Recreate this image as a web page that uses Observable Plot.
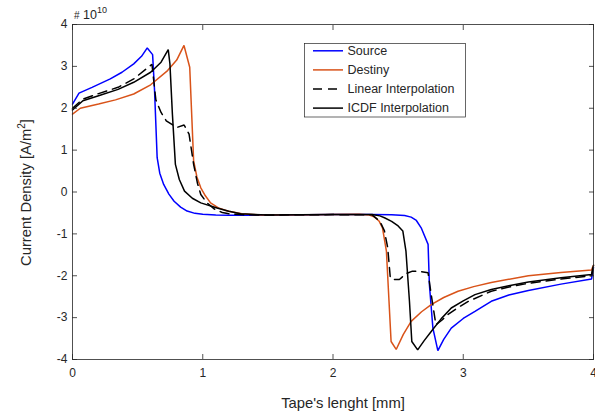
<!DOCTYPE html>
<html><head><meta charset="utf-8">
<script src="https://cdn.jsdelivr.net/npm/d3@7"></script>
<script src="https://cdn.jsdelivr.net/npm/@observablehq/plot@0.6"></script>
<style>html,body{margin:0;padding:0;background:#fff;overflow:hidden} svg{display:block}</style>
</head><body><div id="chart"></div>
<script>
// ---- data (x in mm, y in units of 1e10 A/m^2) ----
const xTicks = [0, 1, 2, 3, 4];
const yTicks = [-4, -3, -2, -1, 0, 1, 2, 3, 4];
const seriesNames = ["Source", "Destiny", "Linear Interpolation", "ICDF Interpolation"];
const seriesColors = ["#0000ff", "#d95319", "#000000", "#000000"];

const source = [[0,2.1],[0.05,2.36],[0.15,2.5],[0.29,2.7],[0.38,2.86],[0.47,3.06],[0.53,3.24],[0.574,3.44],[0.615,3.28],[0.63,2.42],[0.65,0.82],[0.67,0.45],[0.70,0.18],[0.74,-0.05],[0.78,-0.22],[0.83,-0.36],[0.88,-0.455],[0.94,-0.51],[1.0,-0.53],[1.1,-0.55],[1.2,-0.555],[1.6,-0.55],[2.0,-0.54],[2.3,-0.54],[2.45,-0.545],[2.55,-0.56],[2.6,-0.6],[2.64,-0.68],[2.677,-0.855],[2.73,-1.25],[2.74,-2.21],[2.767,-3.25],[2.805,-3.79],[2.85,-3.52],[2.908,-3.25],[3.0,-3.02],[3.09,-2.85],[3.215,-2.61],[3.35,-2.46],[3.5,-2.35],[3.75,-2.2],[3.985,-2.08],[4.0,-1.8]];

const destiny = [[0,1.86],[0.06,2.0],[0.2,2.1],[0.33,2.2],[0.47,2.34],[0.6,2.56],[0.73,2.9],[0.8,3.15],[0.856,3.5],[0.9,2.98],[0.915,1.86],[0.93,0.74],[0.955,0.36],[0.985,0.10],[1.02,-0.09],[1.06,-0.26],[1.12,-0.38],[1.19,-0.455],[1.3,-0.52],[1.45,-0.55],[1.8,-0.545],[2.2,-0.53],[2.28,-0.55],[2.32,-0.6],[2.355,-0.7],[2.38,-0.855],[2.41,-1.41],[2.43,-2.61],[2.446,-3.57],[2.485,-3.76],[2.54,-3.4],[2.6,-3.09],[2.68,-2.86],[2.754,-2.69],[2.85,-2.52],[2.96,-2.37],[3.08,-2.26],[3.215,-2.16],[3.5,-2.0],[3.75,-1.92],[3.985,-1.86],[4.0,-1.75]];

const linearInterp = [[0,2.0],[0.08,2.22],[0.2,2.35],[0.35,2.5],[0.47,2.7],[0.57,2.95],[0.61,3.05],[0.64,2.2],[0.68,1.9],[0.72,1.7],[0.8,1.54],[0.857,1.6],[0.895,1.38],[0.93,0.66],[0.96,0.2],[0.985,-0.06],[1.03,-0.25],[1.09,-0.41],[1.15,-0.49],[1.215,-0.53],[1.4,-0.55],[2.0,-0.54],[2.3,-0.545],[2.36,-0.7],[2.395,-0.93],[2.42,-1.33],[2.44,-2.05],[2.46,-2.09],[2.51,-2.09],[2.56,-1.95],[2.61,-1.89],[2.65,-1.89],[2.73,-1.93],[2.754,-2.45],[2.79,-3.17],[2.84,-3.05],[2.88,-2.93],[2.96,-2.76],[3.04,-2.61],[3.215,-2.37],[3.35,-2.27],[3.5,-2.18],[3.75,-2.08],[3.985,-2.0],[4.0,-1.75]];

const icdfInterp = [[0,1.96],[0.08,2.18],[0.2,2.3],[0.35,2.45],[0.47,2.62],[0.6,2.86],[0.68,3.1],[0.735,3.4],[0.748,3.06],[0.767,1.86],[0.79,0.66],[0.82,0.3],[0.86,0.02],[0.92,-0.15],[0.985,-0.26],[1.11,-0.38],[1.2,-0.46],[1.29,-0.52],[1.5,-0.55],[2.0,-0.54],[2.3,-0.54],[2.36,-0.57],[2.395,-0.615],[2.45,-0.7],[2.5,-0.81],[2.536,-0.93],[2.56,-1.41],[2.587,-2.61],[2.605,-3.57],[2.65,-3.77],[2.7,-3.55],[2.754,-3.33],[2.83,-3.03],[2.908,-2.77],[3.0,-2.6],[3.09,-2.45],[3.215,-2.33],[3.35,-2.24],[3.5,-2.15],[3.75,-2.05],[3.985,-1.97],[4.0,-1.75]];

const seriesData = [source, destiny, linearInterp, icdfInterp];
const xLabel = "Tape's lenght [mm]";
const yLabelMain = "Current Density [A/m";
const exponentBase = "# 10";
const exponentPow = "10";

// ---- chart ----
const axisColor = "#262626";
const dash = "9,6";
const font = "'Liberation Sans', Arial, Helvetica, sans-serif";

const lineMarks = seriesData.map((d, i) =>
  Plot.line(d, {x: p => p[0], y: p => p[1], stroke: seriesColors[i], strokeWidth: 1.5,
    strokeDasharray: i === 2 ? dash : null, strokeLinejoin: "miter"}));

const chart = Plot.plot({
  width: 595, height: 417,
  marginLeft: 72, marginRight: 2, marginTop: 24, marginBottom: 58,
  style: {fontFamily: font, fontSize: "12px", color: axisColor, background: "#fff"},
  x: {domain: [0, 4]},
  y: {domain: [-4, 4]},
  marks: [
    ...lineMarks,
    Plot.frame({stroke: axisColor, strokeWidth: 0.8}),
    Plot.axisX({anchor: "bottom", ticks: xTicks, tickSize: -5, tickPadding: 13.5, tickFormat: d => String(d), label: null, strokeWidth: 0.8}),
    Plot.axisX({anchor: "top", ticks: xTicks, tickSize: -5, tickFormat: () => "", label: null, strokeWidth: 0.8}),
    Plot.axisY({anchor: "left", ticks: yTicks, tickSize: -5, tickPadding: 10, tickFormat: d => String(d), label: null, strokeWidth: 0.8}),
    Plot.axisY({anchor: "right", ticks: yTicks, tickSize: -5, tickFormat: () => "", label: null, strokeWidth: 0.8})
  ]
});
document.getElementById("chart").appendChild(chart);

const svg = d3.select(chart);

// exponent label
const ex = svg.append("text").attr("x", 74).attr("y", 19).attr("text-anchor", "start").attr("fill", axisColor)
  .style("font-family", font).style("font-size", "12.5px");
ex.append("tspan").text(exponentBase.slice(0, 1)).style("font-size", "10px");
ex.append("tspan").text(exponentBase.slice(1));
ex.append("tspan").text(exponentPow).attr("dy", -6).style("font-size", "9px");

// x label
svg.append("text").attr("x", 343).attr("y", 408).attr("text-anchor", "middle")
  .attr("fill", axisColor).style("font-family", font).style("font-size", "14.8px").text(xLabel);

// y label
const yl = svg.append("text").attr("transform", "translate(31,192.5) rotate(-90)")
  .attr("text-anchor", "middle").attr("fill", axisColor)
  .style("font-family", font).style("font-size", "14.8px");
yl.append("tspan").text(yLabelMain);
yl.append("tspan").text("2").attr("dy", -6).style("font-size", "10px");
yl.append("tspan").text("]").attr("dy", 6);

// legend
const lg = svg.append("g");
lg.append("rect").attr("x", 304.5).attr("y", 43.5).attr("width", 161).attr("height", 73.5)
  .attr("fill", "#fff").attr("stroke", axisColor).attr("stroke-width", 0.7);
seriesNames.forEach((name, i) => {
  const cy = 50.8 + i * 19.1;
  lg.append("line").attr("x1", 313).attr("x2", 343).attr("y1", cy).attr("y2", cy)
    .attr("stroke", seriesColors[i]).attr("stroke-width", 1.5)
    .attr("stroke-dasharray", i === 2 ? dash : null);
  lg.append("text").attr("x", 347.5).attr("y", cy).attr("dy", "0.35em").attr("text-anchor", "start")
    .attr("fill", axisColor).style("font-family", font).style("font-size", "12.5px").text(name);
});
</script>
</body></html>
